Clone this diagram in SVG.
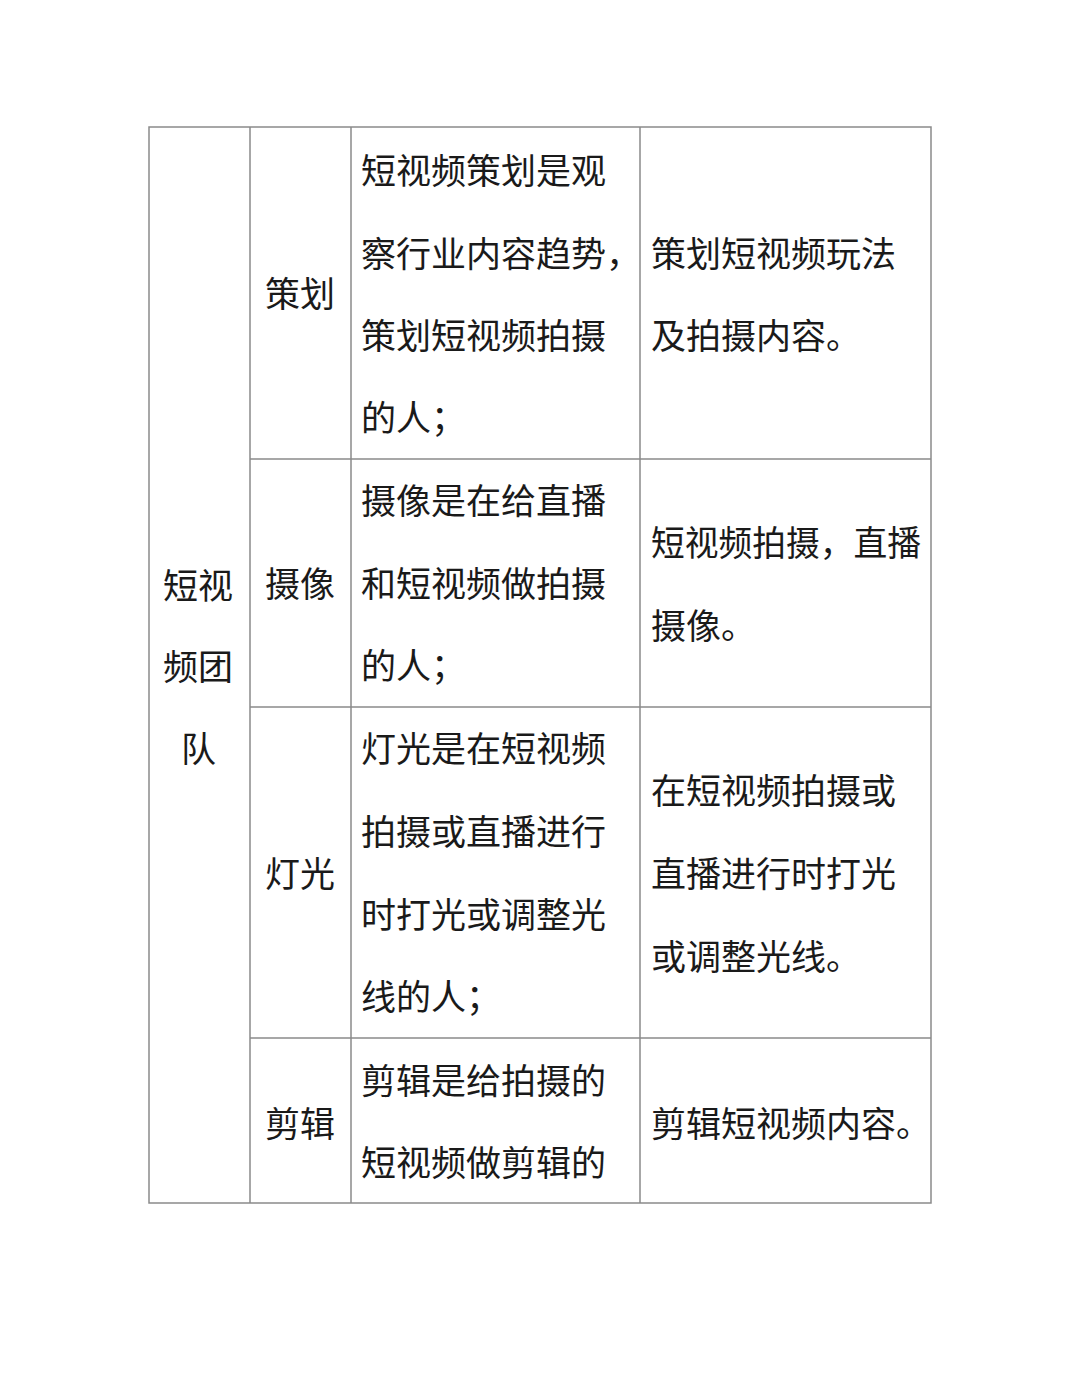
<svg xmlns="http://www.w3.org/2000/svg" width="1080" height="1396" viewBox="0 0 1080 1396">
<style>
.t{font-family:"Noto Sans CJK SC","Noto Sans",sans-serif;font-size:35px;fill:#1a1a1a}
.l{stroke:#8a8a8a;stroke-width:1.5;fill:none}
</style>
<rect width="1080" height="1396" fill="#fff"/>
<g id="grid">
<rect class="l" x="149" y="127" width="782" height="1076"/>
<line class="l" x1="250" y1="127" x2="250" y2="1203"/>
<line class="l" x1="351" y1="127" x2="351" y2="1203"/>
<line class="l" x1="640" y1="127" x2="640" y2="1203"/>
<line class="l" x1="250" y1="459" x2="931" y2="459"/>
<line class="l" x1="250" y1="707" x2="931" y2="707"/>
<line class="l" x1="250" y1="1038" x2="931" y2="1038"/>
</g>
<g id="c1" class="t">
<text x="163" y="599">短视</text><text x="163" y="680">频团</text><text x="181" y="762">队</text>
</g>
<g id="c2" class="t">
<text x="265" y="307">策划</text><text x="265" y="597">摄像</text><text x="265" y="887">灯光</text><text x="265" y="1137">剪辑</text>
</g>
<g id="c3" class="t">
<text x="361" y="184">短视频策划是观</text><text x="361" y="267">察行业内容趋势，</text><text x="361" y="349">策划短视频拍摄</text><text x="361" y="431">的人；</text>
<text x="361" y="514">摄像是在给直播</text><text x="361" y="597">和短视频做拍摄</text><text x="361" y="679">的人；</text>
<text x="361" y="762">灯光是在短视频</text><text x="361" y="845">拍摄或直播进行</text><text x="361" y="928">时打光或调整光</text><text x="361" y="1010">线的人；</text>
<text x="361" y="1094">剪辑是给拍摄的</text><text x="361" y="1176">短视频做剪辑的</text>
</g>
<g id="c4" class="t">
<text x="651" y="267">策划短视频玩法</text><text x="651" y="349">及拍摄内容。</text>
<text x="651" y="556" textLength="270" lengthAdjust="spacingAndGlyphs">短视频拍摄，直播</text><text x="651" y="639">摄像。</text>
<text x="651" y="804">在短视频拍摄或</text><text x="651" y="887">直播进行时打光</text><text x="651" y="970">或调整光线。</text>
<text x="651" y="1137">剪辑短视频内容。</text>
</g>
</svg>
